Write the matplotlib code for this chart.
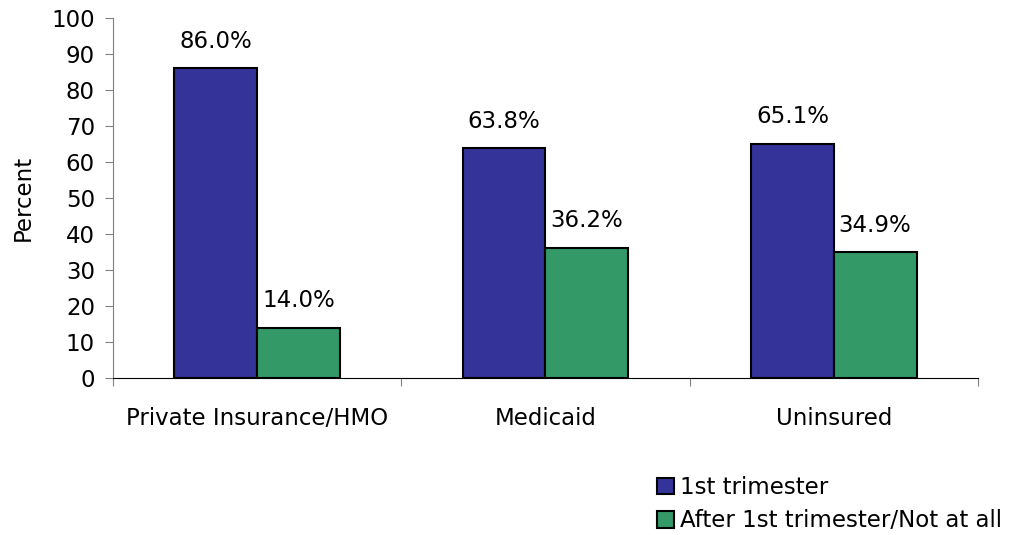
import matplotlib.pyplot as plt
import numpy as np

# datos
categorias = ['Private Insurance/HMO', 'Medicaid', 'Uninsured']
primer_trim = [86.0, 63.8, 65.1]
despues = [14.0, 36.2, 34.9]
series = ['1st trimester', 'After 1st trimester/Not at all']

azul = '#333399'
verde = '#339966'
fs = 16.5

plt.rcParams['font.family'] = ['DejaVu Sans']

fig = plt.figure(figsize=(10.15, 5.35), dpi=100)
ax = fig.add_axes([0.1113, 0.2935, 0.8522, 0.6729])

x = np.arange(len(categorias))
w = 0.287
b1 = ax.bar(x - w / 2, primer_trim, w, color=azul, edgecolor='black', linewidth=1.5, label=series[0])
b2 = ax.bar(x + w / 2, despues, w, color=verde, edgecolor='black', linewidth=1.5, label=series[1])

for barras, vals in ((b1, primer_trim), (b2, despues)):
    for r, v in zip(barras, vals):
        ax.text(r.get_x() + r.get_width() / 2, v + 4.3, '%.1f%%' % v,
                ha='center', va='bottom', fontsize=fs)

ax.set_xlim(-0.5, len(categorias) - 0.5)
ax.set_ylim(0, 100)
ax.set_yticks(range(0, 101, 10))
ax.set_xticks(np.arange(-0.5, len(categorias), 1.0))
ax.set_xticklabels([])
ax.set_xticks(x, minor=True)
ax.set_xticklabels(categorias, minor=True, fontsize=fs)
ax.tick_params(axis='x', which='minor', length=0, pad=21)
ax.tick_params(axis='x', which='major', length=6, color='#808080', direction='out')
ax.tick_params(axis='y', length=6, labelsize=fs, color='#808080', pad=7)
ax.spines['top'].set_visible(False)
ax.spines['right'].set_visible(False)
ax.spines['left'].set_color('#808080')
ax.spines['bottom'].set_color('black')
ax.set_ylabel('Percent', fontsize=fs, labelpad=12)

fig.legend(handles=[b1, b2], labels=series, loc='lower right',
           bbox_to_anchor=(1.004, -0.027), frameon=False, fontsize=fs,
           handlelength=0.75, handleheight=0.75, handletextpad=0.25,
           labelspacing=0.45, borderpad=0.25)

fig.savefig('out.png', dpi=100)
